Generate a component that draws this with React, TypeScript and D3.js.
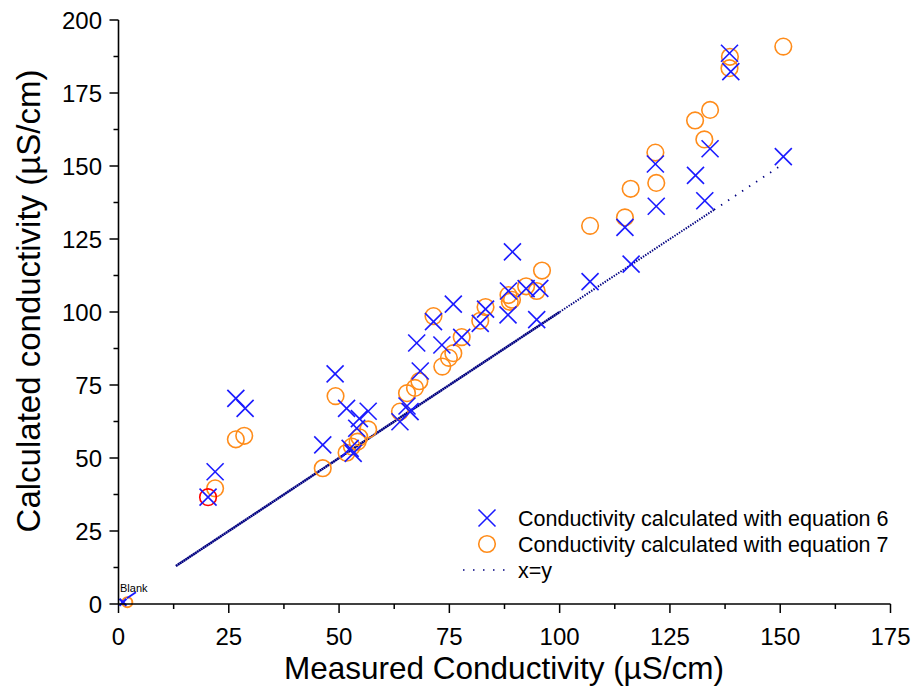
import React from "react";
import * as d3 from "d3";

// Measured conductivity (x) and calculated conductivity (y), µS/cm
const eq6X = [20.3, 21.9, 26.6, 28.7, 46.3, 49.1, 51.7, 52.5, 53.2, 54.0, 54.6, 56.6, 63.8, 65.4, 66.1, 67.6, 68.4, 71.4, 73.3, 75.9, 77.8, 82.0, 83.2, 88.3, 88.4, 89.3, 92.4, 94.8, 95.5, 106.9, 114.8, 116.2, 121.7, 121.9, 130.8, 132.9, 134.1, 138.5, 138.8, 150.7];
const eq6Y = [36.6, 45.3, 70.4, 67.0, 54.5, 78.8, 67.0, 53.3, 51.6, 60.2, 63.5, 66.0, 62.4, 67.8, 65.9, 89.4, 79.8, 96.7, 88.7, 102.7, 91.3, 96.1, 101.0, 99.0, 107.2, 120.6, 108.0, 97.4, 108.1, 110.4, 129.0, 116.4, 150.7, 136.2, 146.8, 138.1, 155.9, 188.6, 182.3, 153.2];
const eq7X = [21.9, 26.6, 28.5, 46.3, 49.2, 51.7, 52.9, 54.2, 54.6, 56.6, 63.8, 65.4, 67.2, 68.2, 71.4, 73.4, 74.9, 75.9, 77.8, 82.0, 83.2, 88.4, 88.7, 89.2, 92.4, 94.8, 96.0, 106.9, 114.8, 116.1, 121.7, 121.9, 130.7, 132.8, 134.1, 138.6, 138.5, 150.7];
const eq7Y = [39.6, 56.4, 57.6, 46.5, 71.2, 51.8, 53.9, 55.6, 57.1, 59.8, 65.9, 72.2, 74.0, 76.3, 98.6, 81.3, 84.3, 85.9, 91.4, 97.0, 101.7, 105.8, 103.5, 104.2, 108.8, 107.2, 114.2, 129.5, 132.4, 142.2, 154.6, 144.2, 165.6, 159.1, 169.2, 187.4, 183.5, 190.9];
const highlightX = [20.3];
const highlightY = [36.6];
const blankX = [1.0];
const blankY = [0.6];
const blank7X = [2.0];
const blank7Y = [0.6];
// x = y reference line, drawn with decreasing dot density
const refSegments = [
  [13, 100],
  [100, 135],
  [135, 150],
];
const xTicks = [0, 25, 50, 75, 100, 125, 150, 175];
const yTicks = [0, 25, 50, 75, 100, 125, 150, 175, 200];
const legendLabels = [
  "Conductivity calculated with equation 6",
  "Conductivity calculated with equation 7",
  "x=y",
];

const W = 915;
const H = 689;
const FONT = "'Liberation Sans', Arial, sans-serif";
const BLUE = "#1a1aff";
const ORANGE = "#ff8c1a";
const NAVY = "#000080";

export default function App() {
  const x = d3.scaleLinear().domain([0, 175]).range([118.5, 890.5]);
  const y = d3.scaleLinear().domain([0, 200]).range([604, 20]);
  const xMinor = d3.range(12.5, 175, 25);
  const yMinor = d3.range(12.5, 200, 25);
  const xs = 8.5;
  const r = 8.3;
  const dash = ["2 0.3", "1.4 1.3", "1.4 7"];
  const widths = [2.5, 2, 1.8];

  const cross = (cx: number, cy: number, s: number, key: string, color = BLUE, sw = 1.6) => (
    <g key={key} stroke={color} strokeWidth={sw}>
      <line x1={cx - s} y1={cy - s} x2={cx + s} y2={cy + s} />
      <line x1={cx - s} y1={cy + s} x2={cx + s} y2={cy - s} />
    </g>
  );

  return (
    <svg width={W} height={H} style={{ position: "absolute", left: 0, top: 0, background: "#fff" }} fontFamily={FONT}>
      {/* x=y line */}
      {refSegments.map((s, i) => (
        <line
          key={"ref" + i}
          x1={x(s[0])}
          y1={y(s[0])}
          x2={x(s[1])}
          y2={y(s[1])}
          stroke={NAVY}
          strokeWidth={widths[i]}
          strokeDasharray={dash[i]}
        />
      ))}
      {/* eq 7 circles */}
      {eq7X.map((v, i) => (
        <circle key={"o" + i} cx={x(v)} cy={y(eq7Y[i])} r={r} fill="none" stroke={ORANGE} strokeWidth={1.6} />
      ))}
      {highlightX.map((v, i) => (
        <circle key={"h" + i} cx={x(v)} cy={y(highlightY[i])} r={r} fill="none" stroke="#ff0000" strokeWidth={1.6} />
      ))}
      {/* eq 6 crosses */}
      {eq6X.map((v, i) => cross(x(v), y(eq6Y[i]), xs, "x" + i))}
      {/* blank */}
      {blank7X.map((v, i) => (
        <circle key={"bo" + i} cx={x(v)} cy={y(blank7Y[i])} r={5} fill="none" stroke={ORANGE} strokeWidth={2} />
      ))}
      {blankX.map((v, i) => (
        <g key={"bx" + i}>
          {cross(x(v), y(blankY[i]), 3.5, "bxc" + i, BLUE, 2.4)}
          <line x1={x(v) + 4} y1={y(blankY[i]) - 4} x2={x(v) + 13} y2={y(blankY[i]) - 10} stroke={BLUE} strokeWidth={2} />
        </g>
      ))}
      <text x={120} y={592} fontSize={11} fill="#000">Blank</text>
      {/* axes */}
      <line x1={x(0)} y1={y(0)} x2={x(175)} y2={y(0)} stroke="#000" strokeWidth={1.6} />
      <line x1={x(0)} y1={y(0)} x2={x(0)} y2={y(200)} stroke="#000" strokeWidth={1.6} />
      {xTicks.map((t) => (
        <g key={"xt" + t}>
          <line x1={x(t)} y1={y(0)} x2={x(t)} y2={y(0) + 9} stroke="#000" strokeWidth={1.5} />
          <text x={x(t)} y={645} textAnchor="middle" fontSize={24} fill="#000">{t}</text>
        </g>
      ))}
      {xMinor.map((t) => (
        <line key={"xm" + t} x1={x(t)} y1={y(0)} x2={x(t)} y2={y(0) + 5} stroke="#000" strokeWidth={1.5} />
      ))}
      {yTicks.map((t) => (
        <g key={"yt" + t}>
          <line x1={x(0) - 9} y1={y(t)} x2={x(0)} y2={y(t)} stroke="#000" strokeWidth={1.5} />
          <text x={102} y={y(t) + 8.5} textAnchor="end" fontSize={24} fill="#000">{t}</text>
        </g>
      ))}
      {yMinor.map((t) => (
        <line key={"ym" + t} x1={x(0) - 5} y1={y(t)} x2={x(0)} y2={y(t)} stroke="#000" strokeWidth={1.5} />
      ))}
      <text x={504} y={679} textAnchor="middle" fontSize={31.5} fill="#000">Measured Conductivity (µS/cm)</text>
      <text transform={`translate(39.5,${301}) rotate(-90)`} textAnchor="middle" fontSize={33} fill="#000">
        Calculated conductivity (µS/cm)
      </text>
      {/* legend */}
      <g>
        {cross(487, 518, xs, "lx")}
        <circle cx={487} cy={544} r={r} fill="none" stroke={ORANGE} strokeWidth={1.6} />
        <line x1={463} y1={570} x2={506} y2={570} stroke={NAVY} strokeWidth={1.6} strokeDasharray="1.5 8.5" />
        {legendLabels.map((l, i) => (
          <text key={"lg" + i} x={518} y={518 + i * 26 + 7.5} fontSize={21.5} fill="#000">{l}</text>
        ))}
      </g>
    </svg>
  );
}
